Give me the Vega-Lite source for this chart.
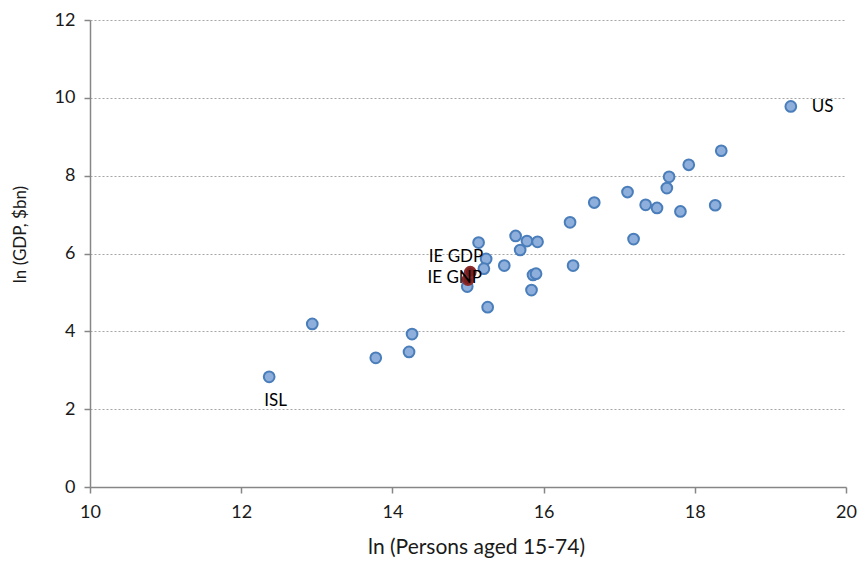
{
  "$schema": "https://vega.github.io/schema/vega-lite/v6.json",
  "autosize": "none",
  "width": 756,
  "height": 467,
  "padding": {"left": 90, "top": 20, "right": 14, "bottom": 83},
  "background": "white",
  "config": {
    "view": {"stroke": null},
    "font": "Lato"
  },
  "data": {
    "values": [
      {"name": "ISL", "x": 12.37, "y": 2.83, "group": "other"},
      {"name": "c2", "x": 12.94, "y": 4.19, "group": "other"},
      {"name": "c3", "x": 13.78, "y": 3.32, "group": "other"},
      {"name": "c4", "x": 14.22, "y": 3.47, "group": "other"},
      {"name": "c5", "x": 14.26, "y": 3.93, "group": "other"},
      {"name": "c6", "x": 14.99, "y": 5.15, "group": "other"},
      {"name": "c7", "x": 15.14, "y": 6.28, "group": "other"},
      {"name": "c8", "x": 15.63, "y": 6.45, "group": "other"},
      {"name": "c9", "x": 15.78, "y": 6.32, "group": "other"},
      {"name": "c10", "x": 15.92, "y": 6.30, "group": "other"},
      {"name": "c11", "x": 15.69, "y": 6.09, "group": "other"},
      {"name": "c12", "x": 15.24, "y": 5.86, "group": "other"},
      {"name": "c13", "x": 15.21, "y": 5.61, "group": "other"},
      {"name": "c14", "x": 15.48, "y": 5.69, "group": "other"},
      {"name": "c15", "x": 15.26, "y": 4.62, "group": "other"},
      {"name": "c16", "x": 15.86, "y": 5.45, "group": "other"},
      {"name": "c17", "x": 15.90, "y": 5.48, "group": "other"},
      {"name": "c18", "x": 15.84, "y": 5.06, "group": "other"},
      {"name": "c19", "x": 16.39, "y": 5.69, "group": "other"},
      {"name": "c20", "x": 16.35, "y": 6.80, "group": "other"},
      {"name": "c21", "x": 16.67, "y": 7.31, "group": "other"},
      {"name": "c22", "x": 17.11, "y": 7.58, "group": "other"},
      {"name": "c23", "x": 17.19, "y": 6.37, "group": "other"},
      {"name": "c24", "x": 17.35, "y": 7.25, "group": "other"},
      {"name": "c25", "x": 17.50, "y": 7.17, "group": "other"},
      {"name": "c26", "x": 17.63, "y": 7.68, "group": "other"},
      {"name": "c27", "x": 17.66, "y": 7.97, "group": "other"},
      {"name": "c28", "x": 17.81, "y": 7.08, "group": "other"},
      {"name": "c29", "x": 17.92, "y": 8.28, "group": "other"},
      {"name": "c30", "x": 18.27, "y": 7.24, "group": "other"},
      {"name": "c31", "x": 18.35, "y": 8.64, "group": "other"},
      {"name": "US", "x": 19.27, "y": 9.78, "group": "other"},
      {"name": "IE GNP", "x": 15.00, "y": 5.33, "group": "IE"},
      {"name": "IE GDP", "x": 15.03, "y": 5.52, "group": "IE"}
    ]
  },
  "encoding": {
    "x": {
      "field": "x", "type": "quantitative",
      "scale": {"domain": [10, 20], "nice": false, "zero": false},
      "axis": {
        "title": "ln (Persons aged 15-74)",
        "values": [10, 12, 14, 16, 18, 20],
        "grid": false,
        "labelFlush": false,
        "domainColor": "#868686", "domainWidth": 1.5,
        "tickColor": "#868686", "tickSize": 6, "tickWidth": 1.5,
        "labelFont": "Lato", "labelFontSize": 18, "labelColor": "#1a1a1a", "labelPadding": 10,
        "titleFont": "Lato", "titleFontSize": 21, "titleFontWeight": "normal", "titleColor": "#1a1a1a", "titlePadding": 15,
        "titleX": 386
      }
    },
    "y": {
      "field": "y", "type": "quantitative",
      "scale": {"domain": [0, 12], "nice": false},
      "axis": {
        "title": "ln (GDP, $bn)",
        "values": [0, 2, 4, 6, 8, 10, 12],
        "labelFlush": false,
        "grid": true, "gridColor": "#A6A6A6", "gridDash": [2, 2], "gridWidth": 1.2,
        "domainColor": "#868686", "domainWidth": 1.5,
        "tickColor": "#868686", "tickSize": 6, "tickWidth": 1.5,
        "labelFont": "Lato", "labelFontSize": 18, "labelColor": "#1a1a1a", "labelPadding": 9,
        "titleFont": "Lato", "titleFontSize": 17, "titleFontWeight": "normal", "titleColor": "#1a1a1a", "titlePadding": 25,
        "titleY": 214
      }
    }
  },
  "layer": [
    {
      "mark": {"type": "point", "shape": "circle", "filled": true, "size": 115, "strokeWidth": 2, "opacity": 1},
      "encoding": {
        "fill": {
          "field": "group", "type": "nominal",
          "scale": {"domain": ["other", "IE"], "range": ["#8EAEDB", "#7A1F1F"]},
          "legend": null
        },
        "stroke": {
          "field": "group", "type": "nominal",
          "scale": {"domain": ["other", "IE"], "range": ["#4A7EBB", "#8B2B2B"]},
          "legend": null
        },
        "order": {"field": "group", "sort": "descending"}
      }
    },
    {
      "transform": [{"filter": "datum.name === 'ISL'"}],
      "mark": {"type": "text", "align": "left", "baseline": "middle", "dx": -5, "dy": 24, "font": "Lato", "fontSize": 17, "color": "#000"},
      "encoding": {"text": {"field": "name"}}
    },
    {
      "transform": [{"filter": "datum.name === 'US'"}],
      "mark": {"type": "text", "align": "left", "baseline": "middle", "dx": 21, "dy": 1, "font": "Lato", "fontSize": 17, "color": "#000"},
      "encoding": {"text": {"field": "name"}}
    },
    {
      "transform": [{"filter": "datum.name === 'IE GDP'"}],
      "mark": {"type": "text", "align": "right", "baseline": "middle", "dx": 13, "dy": -15, "font": "Lato", "fontSize": 17, "color": "#000"},
      "encoding": {"text": {"field": "name"}}
    },
    {
      "transform": [{"filter": "datum.name === 'IE GNP'"}],
      "mark": {"type": "text", "align": "right", "baseline": "middle", "dx": 14, "dy": -2, "font": "Lato", "fontSize": 17, "color": "#000"},
      "encoding": {"text": {"field": "name"}}
    }
  ]
}
